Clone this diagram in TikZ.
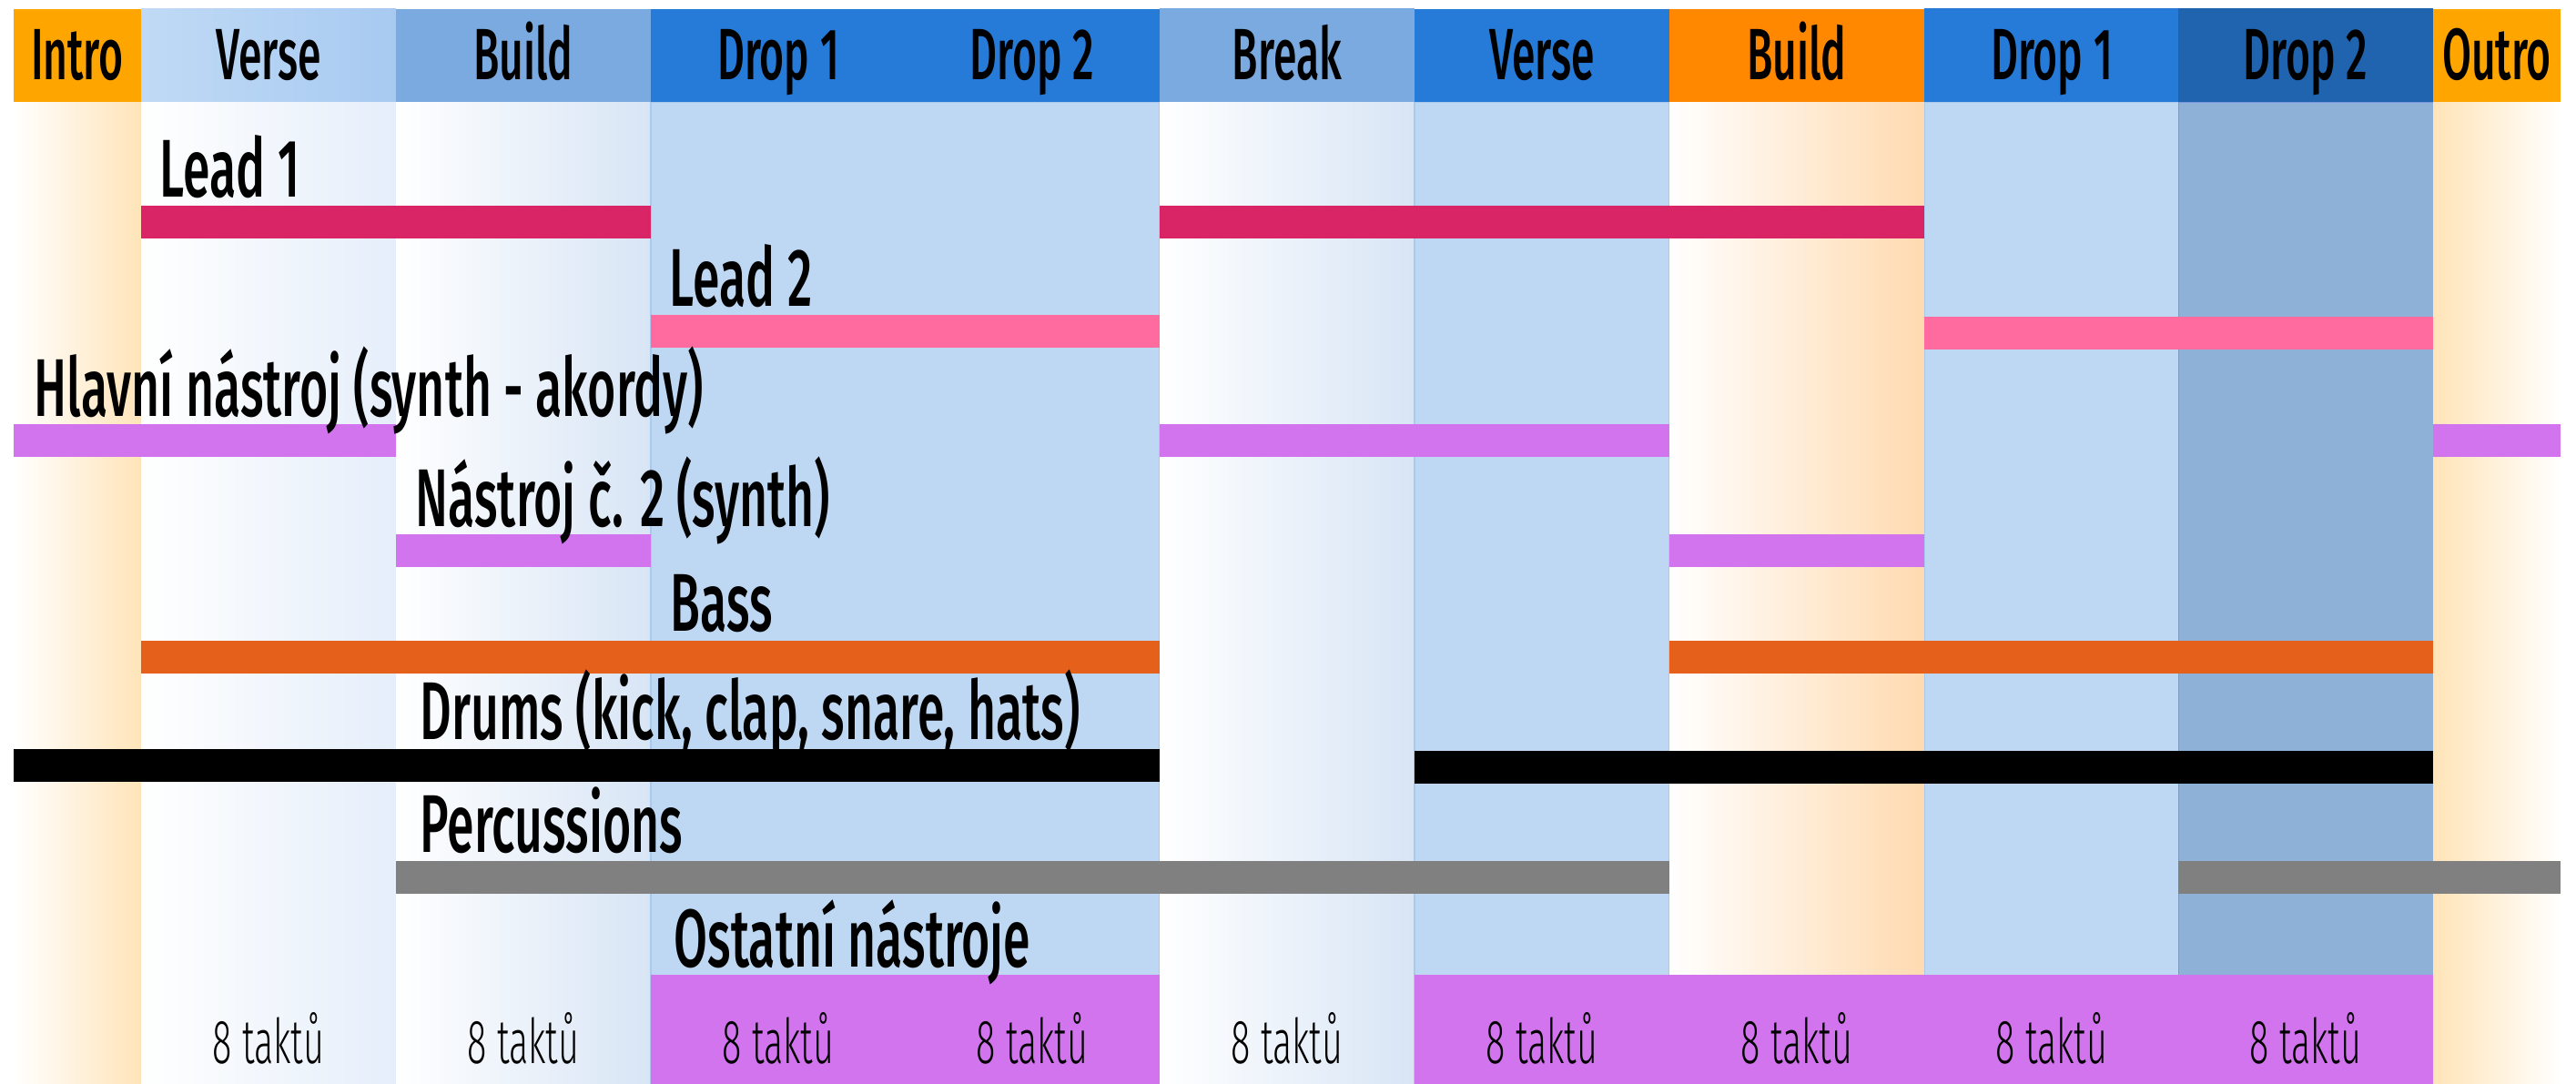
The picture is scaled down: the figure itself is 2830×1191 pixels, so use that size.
\documentclass[tikz,border=0pt]{standalone}
\usepackage{fontspec}
\setmainfont{Fira Sans}[FakeStretch=0.58, UprightFont={* Light}, BoldFont={* Medium}]
\newfontfamily\trackfont{Fira Sans}[FakeStretch=0.595, UprightFont={* Medium}]

\definecolor{introOr}{HTML}{FFA500}
\definecolor{buildOr}{HTML}{FF8800}
\definecolor{introBody}{HTML}{FFE4B8}
\definecolor{buildBodyOr}{HTML}{FFDAB0}
\definecolor{verseHeadL}{HTML}{C0DAF5}
\definecolor{verseHeadR}{HTML}{A8CAF1}
\definecolor{softHead}{HTML}{7BAAE0}
\definecolor{dropHead}{HTML}{267AD8}
\definecolor{darkHead}{HTML}{2064B0}
\definecolor{dropBody}{HTML}{BED8F3}
\definecolor{darkBody}{HTML}{8EB1D8}
\definecolor{verseFade}{HTML}{E5EEFA}
\definecolor{buildFade}{HTML}{D8E5F5}
\definecolor{bodyEdge}{HTML}{A9C9EE}
\definecolor{leadA}{HTML}{D92465}
\definecolor{leadB}{HTML}{FF6B9E}
\definecolor{synthCol}{HTML}{D274EE}
\definecolor{bassCol}{HTML}{E5611B}
\definecolor{percCol}{HTML}{808080}

\begin{document}
\begin{tikzpicture}[x=0.01cm, y=-0.01cm,
  sechead/.style={anchor=base, inner sep=0pt, font=\bfseries\fontsize{22.7}{24}\selectfont},
  track/.style={anchor=base west, inner sep=0pt, font=\trackfont\fontsize{25.6}{28}\selectfont},
  bars/.style={anchor=base, inner sep=0pt, font=\fontsize{19.4}{21}\selectfont},
  flat/.style={fill=dropBody, draw=bodyEdge, line width=0.3pt}]
  \useasboundingbox (0,0) rectangle (2830,1191);
  % column bodies
  \fill[left color=white, right color=introBody] (15,112) rectangle (155,1191);
  \fill[left color=white, right color=verseFade] (155,112) rectangle (435,1191);
  \fill[left color=white, right color=buildFade] (435,112) rectangle (715,1191);
  \path[flat] (715,112) rectangle (1274,1191);
  \fill[left color=white, right color=buildFade] (1274,112) rectangle (1554,1191);
  \path[flat] (1554,112) rectangle (1834,1191);
  \fill[left color=white, right color=buildBodyOr] (1834,112) rectangle (2114,1191);
  \path[flat] (2114,112) rectangle (2393,1191);
  \path[flat, fill=darkBody, draw=darkBody!85!blue] (2393,112) rectangle (2673,1191);
  \fill[left color=introBody, right color=white] (2673,112) rectangle (2813,1191);
  % section headers
  \fill[introOr] (15,10) rectangle (155,112);
  \fill[left color=verseHeadL, right color=verseHeadR] (155,10) rectangle (435,112);
  \fill[softHead] (435,10) rectangle (715,112);
  \fill[dropHead] (715,10) rectangle (1274,112);
  \fill[softHead] (1274,9) rectangle (1554,112);
  \fill[dropHead] (1554,10) rectangle (1834,112);
  \fill[buildOr] (1834,10) rectangle (2114,112);
  \fill[dropHead] (2114,9) rectangle (2393,112);
  \fill[darkHead] (2393,9) rectangle (2673,112);
  \fill[introOr] (2673,10) rectangle (2813,112);
  \node[sechead] (intro) at (85,88) {Intro};
  \node[sechead] (verseA) at (295,88) {Verse};
  \node[sechead] (buildA) at (575,88) {Build};
  \node[sechead] (dropA1) at (855,88) {Drop 1};
  \node[sechead] (dropA2) at (1134,88) {Drop 2};
  \node[sechead] (brk) at (1414,88) {Break};
  \node[sechead] (verseB) at (1694,88) {Verse};
  \node[sechead] (buildB) at (1974,88) {Build};
  \node[sechead] (dropB1) at (2254,88) {Drop 1};
  \node[sechead] (dropB2) at (2533,88) {Drop 2};
  \node[sechead] (outro) at (2743,88) {Outro};
  % tracks
  \fill[leadA] (155,226) rectangle (715,262);
  \fill[leadA] (1274,226) rectangle (2114,262);
  \fill[leadB] (715,346) rectangle (1274,382);
  \fill[leadB] (2114,348) rectangle (2673,384);
  \fill[synthCol] (15,466) rectangle (435,502);
  \fill[synthCol] (1274,466) rectangle (1834,502);
  \fill[synthCol] (2673,466) rectangle (2813,502);
  \fill[synthCol] (435,587) rectangle (715,623);
  \fill[synthCol] (1834,587) rectangle (2114,623);
  \fill[bassCol] (155,704) rectangle (1274,740);
  \fill[bassCol] (1834,704) rectangle (2673,740);
  \fill[black] (15,823) rectangle (1274,859);
  \fill[black] (1554,825) rectangle (2673,861);
  \fill[percCol] (435,946) rectangle (1834,982);
  \fill[percCol] (2393,946) rectangle (2813,982);
  \fill[synthCol] (715,1071) rectangle (1274,1191);
  \fill[synthCol] (1554,1071) rectangle (2673,1191);
  \node[track] (lead1) at (175,217) {Lead 1};
  \node[track] (lead2) at (735,337) {Lead 2};
  \node[track] (hlavni) at (37,457) {Hlavní nástroj (synth - akordy)};
  \node[track] (nastroj2) at (456,578) {Nástroj č. 2 (synth)};
  \node[track] (bass) at (736,693) {Bass};
  \node[track] (drums) at (461,812) {Drums (kick, clap, snare, hats)};
  \node[track] (perc) at (461,936) {Percussions};
  \node[track] (ostatni) at (740,1062) {Ostatní nástroje};
  % bar counts
  \node[bars] (tA1) at (295,1168) {8 taktů};
  \node[bars] (tA2) at (575,1168) {8 taktů};
  \node[bars] (tA3) at (855,1168) {8 taktů};
  \node[bars] (tA4) at (1134,1168) {8 taktů};
  \node[bars] (tA5) at (1414,1168) {8 taktů};
  \node[bars] (tB1) at (1694,1168) {8 taktů};
  \node[bars] (tB2) at (1974,1168) {8 taktů};
  \node[bars] (tB3) at (2254,1168) {8 taktů};
  \node[bars] (tB4) at (2533,1168) {8 taktů};
\end{tikzpicture}
\end{document}
